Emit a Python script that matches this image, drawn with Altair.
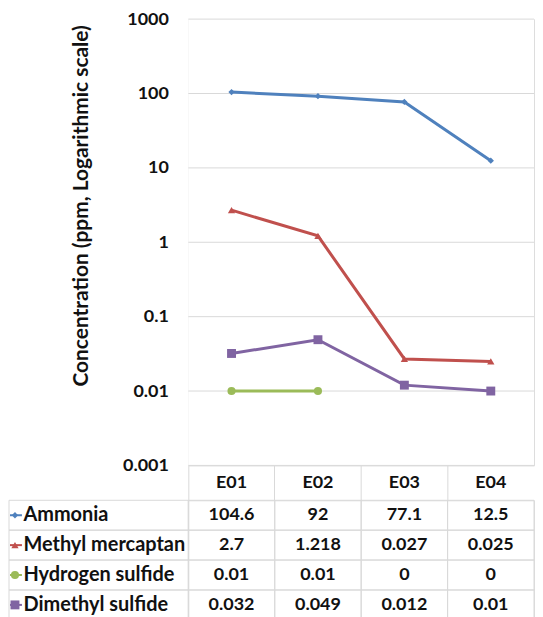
import altair as alt
import pandas as pd

samples = ["E01", "E02", "E03", "E04"]
series = ["Ammonia", "Methyl mercaptan", "Hydrogen sulfide", "Dimethyl sulfide"]
ammonia = [104.6, 92, 77.1, 12.5]
methyl_mercaptan = [2.7, 1.218, 0.027, 0.025]
hydrogen_sulfide = [0.01, 0.01, 0, 0]
dimethyl_sulfide = [0.032, 0.049, 0.012, 0.01]
y_ticks = [0.001, 0.01, 0.1, 1, 10, 100, 1000]

colors = ["#4F81BD", "#C0504D", "#9BBB59", "#8064A2"]
shapes = ["diamond", "triangle-up", "circle", "square"]
marker_sizes = [40, 80, 100, 70]

rows = []
for name, vals in zip(series, [ammonia, methyl_mercaptan, hydrogen_sulfide, dimethyl_sulfide]):
    for s, v in zip(samples, vals):
        rows.append({"series": name, "sample": s, "value": v})
df = pd.DataFrame(rows)
ticks_df = pd.DataFrame({"value": y_ticks})

FONT = "Lato"
GRID = "#d9d9d9"
W = 347
H = 448
LEFT = 180
TXT = "#111111"

color = alt.Color("series:N", scale=alt.Scale(domain=series, range=colors), legend=None)
shape = alt.Shape("series:N", scale=alt.Scale(domain=series, range=shapes), legend=None)
size = alt.Size("series:N", scale=alt.Scale(domain=series, range=marker_sizes), legend=None)

xband = alt.Scale(type="band", domain=samples, paddingInner=0, paddingOuter=0)

x_top = alt.X(
    "sample:N", scale=xband,
    axis=alt.Axis(title=None, domain=False, ticks=True, tickSize=35, tickColor=GRID,
                  tickWidth=1, bandPosition=0, labelPadding=-18,
                  labelBaseline="middle", labelAngle=0, labelFont=FONT, labelFontSize=18,
                  labelFontWeight="bold", labelColor=TXT, grid=False))
ylog = alt.Scale(type="log", domain=[0.001, 1000])
y_axis = alt.Axis(values=y_ticks, format="~g", title="Concentration (ppm, Logarithmic scale)",
                  grid=False, domain=False, ticks=False,
                  labelPadding=20, labelFont=FONT, labelFontSize=18, labelFontWeight="bold",
                  labelColor=TXT, titleFont=FONT, titleFontSize=21, titleFontWeight="bold",
                  titleColor=TXT, titleX=-107, titleY=187, titleBaseline="middle",
                  titleAlign="center")
y_top = alt.Y("value:Q", scale=ylog, axis=y_axis)

bg = alt.Chart(pd.DataFrame({"k": [0]})).mark_rect(fill="white", stroke=None).encode(
    x=alt.value(0), x2=alt.value(W), y=alt.value(0), y2=alt.value(H))
gridlines = alt.Chart(ticks_df).mark_rule(color=GRID, strokeWidth=1).encode(y=y_top)
base = alt.Chart(df).transform_filter("datum.value > 0")
line = base.mark_line(strokeWidth=3).encode(x=x_top, y=y_top, color=color)
pts = base.mark_point(filled=True, opacity=1).encode(x=x_top, y=y_top, color=color,
                                                      shape=shape, size=size)
top = alt.layer(bg, gridlines, line, pts).properties(width=W, height=H)

yscale = alt.Scale(type="band", domain=series, paddingInner=0, paddingOuter=0)
yaxis = alt.Axis(title=None, grid=False, ticks=True, tickSize=LEFT, tickOpacity=0,
                 domain=False, labelAlign="left", labelPadding=-14, labelBaseline="middle",
                 labelFont=FONT, labelFontSize=20, labelFontWeight="bold",
                 labelColor=TXT, labelLimit=0)
y_tbl = alt.Y("series:N", scale=yscale, axis=yaxis)
x_tbl = alt.X("sample:N", scale=xband, axis=None)

tbase = alt.Chart(df)
first = tbase.transform_filter("datum.sample == 'E01'")
name_boxes = first.mark_rect(fillOpacity=0, stroke=GRID, strokeWidth=1).encode(
    y=y_tbl, x=alt.value(-LEFT), x2=alt.value(0))
cell_boxes = tbase.mark_rect(fillOpacity=0, stroke=GRID, strokeWidth=1).encode(
    y=y_tbl, x=x_tbl)
cells = tbase.mark_text(font=FONT, fontSize=18, fontWeight="bold", color=TXT).encode(
    x=x_tbl, y=y_tbl, text=alt.Text("value:Q", format="~g"))
leg_line = first.mark_rule(strokeWidth=2).encode(
    y=y_tbl, x=alt.value(-LEFT + 1), x2=alt.value(-LEFT + 13), color=color)
leg_pts = first.mark_point(filled=True, opacity=1).encode(
    y=y_tbl, x=alt.value(-LEFT + 6), color=color, shape=shape, size=size)
table = alt.layer(name_boxes, cell_boxes, cells, leg_line, leg_pts).properties(width=W, height=120)

chart = (
    alt.vconcat(top, table, spacing=35, bounds="flush")
    .resolve_scale(x="independent", y="independent")
    .properties(padding={"left": 0, "top": 0, "right": 0, "bottom": 0})
    .configure_view(stroke=None)
    .configure(font=FONT)
)

chart.save("out.html", embed_options={"renderer": "svg", "actions": False})
